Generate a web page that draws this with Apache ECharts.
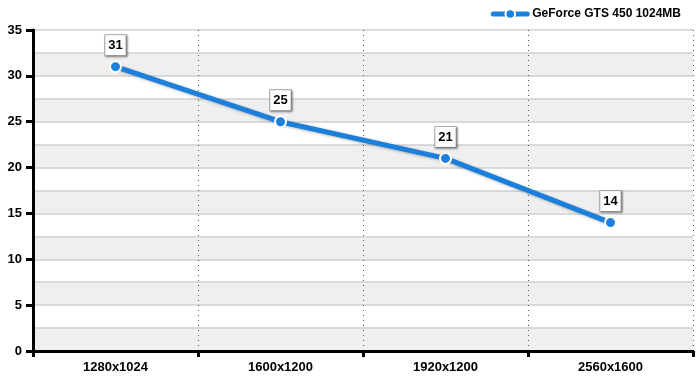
<!DOCTYPE html>
<html><head><meta charset="utf-8">
<script src="https://cdn.jsdelivr.net/npm/echarts@6/dist/echarts.min.js"></script>
<style>html,body{margin:0;padding:0;background:#fff}#c{width:700px;height:381px}</style>
</head><body><div id="c"></div>
<script>
const categories = ['1280x1024', '1600x1200', '1920x1200', '2560x1600'];
const seriesName = 'GeForce GTS 450 1024MB';
const values = [31, 25, 21, 14];

const chart = echarts.init(document.getElementById('c'));
const font = 'Liberation Sans, Arial, sans-serif';
chart.setOption({
  animation: false,
  backgroundColor: '#fff',
  textStyle: { fontFamily: font },
  legend: {
    right: 14, top: 3,
    itemWidth: 34, itemHeight: 12, itemGap: 6,
    lineStyle: { width: 5, cap: 'round' },
    textStyle: { fontWeight: 'bold', fontSize: 12, color: '#000', fontFamily: font },
    data: [seriesName]
  },
  grid: { left: 33, right: 7, top: 30, bottom: 30 },
  xAxis: {
    type: 'category', data: categories, boundaryGap: true,
    axisLine: { lineStyle: { color: '#000', width: 3 } },
    axisTick: { show: true, length: 6, lineStyle: { color: '#000', width: 3 } },
    axisLabel: { color: '#000', fontWeight: 'bold', fontSize: 13, margin: 10, fontFamily: font },
    splitLine: { show: true, lineStyle: { color: '#555', type: [1, 4], width: 1 } }
  },
  yAxis: [{
    type: 'value', min: 0, max: 35, interval: 2.5,
    axisLine: { show: false }, axisTick: { show: false }, axisLabel: { show: false },
    splitLine: { show: true, lineStyle: { color: '#cfcfcf', width: 1.5 } },
    splitArea: { show: true, areaStyle: { color: ['#efefef', '#ffffff'] } }
  }, {
    type: 'value', min: 0, max: 35, interval: 5, position: 'left',
    axisLine: { show: true, lineStyle: { color: '#000', width: 3 } },
    axisTick: { show: true, inside: false, length: 7, lineStyle: { color: '#000', width: 3 } },
    axisLabel: { color: '#000', fontWeight: 'bold', fontSize: 13, margin: 11, fontFamily: font },
    splitLine: { show: false }
  }],
  series: [{
    name: seriesName, type: 'line', data: values, yAxisIndex: 0,
    symbol: 'circle', symbolSize: 11,
    itemStyle: { color: '#1a80dc', borderColor: '#fff', borderWidth: 2 },
    lineStyle: { color: '#1a80dc', width: 5, shadowColor: 'rgba(0,0,0,0.3)', shadowBlur: 3, shadowOffsetY: 1, shadowOffsetX: 1 },
    label: {
      show: true, position: 'top', distance: 5,
      color: '#000', fontWeight: 'bold', fontSize: 13, fontFamily: font,
      backgroundColor: '#fff', borderColor: '#aaa', borderWidth: 1,
      padding: [4, 3, 3, 3],
      shadowColor: 'rgba(0,0,0,0.35)', shadowBlur: 2, shadowOffsetX: 1, shadowOffsetY: 1
    }
  }]
});
</script></body></html>
